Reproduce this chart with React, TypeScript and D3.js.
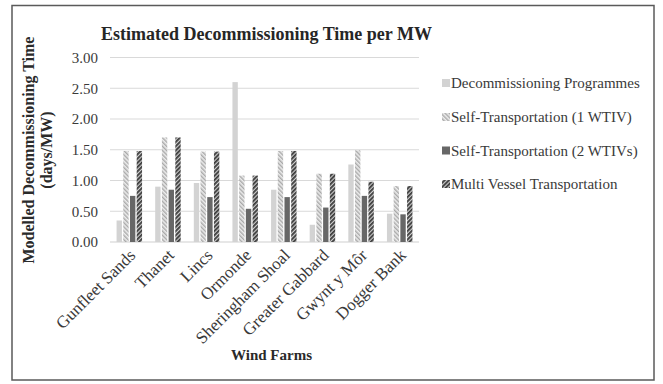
import React from "react";
import * as d3 from "d3";

const categories = ["Gunfleet Sands", "Thanet", "Lincs", "Ormonde", "Sheringham Shoal", "Greater Gabbard", "Gwynt y Môr", "Dogger Bank"];
const seriesNames = ["Decommissioning Programmes", "Self-Transportation (1 WTIV)", "Self-Transportation (2 WTIVs)", "Multi Vessel Transportation"];
const decommissioningProgrammes = [0.35, 0.9, 0.96, 2.6, 0.85, 0.28, 1.26, 0.46];
const selfTransport1 = [1.48, 1.7, 1.47, 1.08, 1.48, 1.11, 1.49, 0.91];
const selfTransport2 = [0.75, 0.85, 0.73, 0.54, 0.73, 0.56, 0.75, 0.45];
const multiVessel = [1.48, 1.7, 1.47, 1.08, 1.48, 1.11, 0.98, 0.91];
const yTicks = [0, 0.5, 1, 1.5, 2, 2.5, 3];

const seriesValues = [decommissioningProgrammes, selfTransport1, selfTransport2, multiVessel];
const fills = ["#d3d3d3", "url(#patST1)", "#676767", "url(#patMV)"];

export default function App() {
  const W = 663, H = 384;
  const x0 = d3.scaleBand<string>().domain(categories).range([110, 419]).paddingInner(0.34).paddingOuter(0.17);
  const x1 = d3.scaleBand<string>().domain(seriesNames).range([0, x0.bandwidth()]).paddingInner(0.2);
  const y = d3.scaleLinear().domain([0, 3]).range([242, 57.5]);
  const font = "Liberation Serif, DejaVu Serif, serif";
  const legendY = [83, 117, 150.5, 184];
  const ts = { fontFamily: font };

  return (
    <svg width={W} height={H} style={{ position: "absolute", left: 0, top: 0, background: "#fff" }}>
      <defs>
        <pattern id="patST1" patternUnits="userSpaceOnUse" width="3" height="3" patternTransform="rotate(-45)">
          <rect width="3" height="3" fill="#ececec" />
          <rect width="1.4" height="3" fill="#a9a9a9" />
        </pattern>
        <pattern id="patMV" patternUnits="userSpaceOnUse" width="3" height="3" patternTransform="rotate(45)">
          <rect width="3" height="3" fill="#cfcfcf" />
          <rect width="1.8" height="3" fill="#3a3a3a" />
        </pattern>
      </defs>
      <rect x={12} y={5.5} width={642} height={374.5} fill="#fff" stroke="#5a5a5a" strokeWidth={1.5} />
      <text x={266.5} y={40} textAnchor="middle" fontSize={18} fontWeight="bold" fill="#262626" style={ts}>
        Estimated Decommissioning Time per MW
      </text>
      {yTicks.map((t) => (
        <g key={t}>
          <line x1={110} x2={419} y1={y(t)} y2={y(t)} stroke={t === 0 ? "#cfcfcf" : "#d9d9d9"} strokeWidth={1} />
          <text x={98} y={y(t)} dy="0.35em" textAnchor="end" fontSize={15} fill="#3a3a3a" style={ts}>
            {t.toFixed(2)}
          </text>
        </g>
      ))}
      {categories.map((c, i) => (
        <g key={c} transform={`translate(${x0(c)},0)`}>
          {seriesNames.map((s, j) => (
            <rect key={s} x={x1(s)} y={y(seriesValues[j][i])} width={x1.bandwidth()} height={y(0) - y(seriesValues[j][i])} fill={fills[j]} />
          ))}
        </g>
      ))}
      {categories.map((c) => {
        const cx = (x0(c) as number) + x0.bandwidth() / 2;
        return (
          <text key={c} transform={`translate(${cx + 3},${252}) rotate(-45)`} textAnchor="end" dy="0.35em" fontSize={17} fill="#3a3a3a" style={ts}>
            {c}
          </text>
        );
      })}
      <text transform="translate(28,150) rotate(-90)" textAnchor="middle" dy="0.35em" fontSize={16} fontWeight="bold" fill="#2a2a2a" style={ts}>
        Modelled Decommissioning Time
      </text>
      <text transform="translate(46,150) rotate(-90)" textAnchor="middle" dy="0.35em" fontSize={16} fontWeight="bold" fill="#2a2a2a" style={ts}>
        (days/MW)
      </text>
      <text x={271.5} y={360} textAnchor="middle" fontSize={15} fontWeight="bold" fill="#2a2a2a" style={ts}>
        Wind Farms
      </text>
      {seriesNames.map((s, j) => (
        <g key={s}>
          <rect x={442} y={legendY[j] - 4} width={8} height={8} fill={fills[j]} />
          <text x={451} y={legendY[j]} dy="0.35em" fontSize={15} fill="#3a3a3a" style={ts}>
            {s}
          </text>
        </g>
      ))}
    </svg>
  );
}
